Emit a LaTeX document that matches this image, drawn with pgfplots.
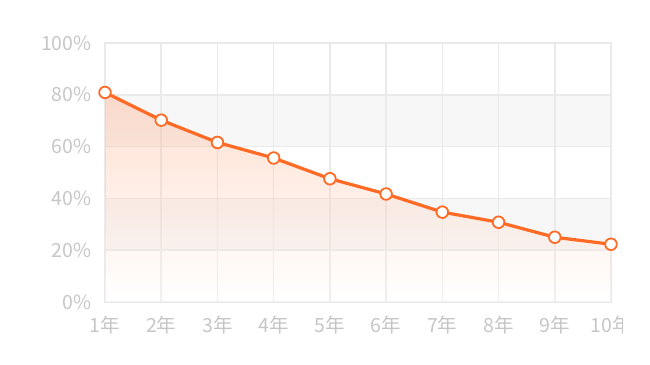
\documentclass[border=0pt]{standalone}
\usepackage{pgfplots}
\pgfplotsset{compat=1.18}
\usepackage{fontspec}
\setmainfont{Noto Sans CJK SC}
\definecolor{lc}{HTML}{FF6A25}
\definecolor{gridc}{HTML}{EAEAEA}
\definecolor{bandc}{HTML}{F7F7F7}
\definecolor{txt}{HTML}{C6C6C6}
\begin{document}
\begin{tikzpicture}
\begin{axis}[
  at={(105pt,62pt)}, anchor=south west,
  scale only axis, width=506pt, height=259pt,
  xmin=1, xmax=10, ymin=0, ymax=100,
  set layers,
  xtick={1,...,10},
  xticklabels={1年,2年,3年,4年,5年,6年,7年,8年,9年,10年},
  ytick={0,20,40,60,80,100},
  yticklabels={0\%,20\%,40\%,60\%,80\%,100\%},
  grid=major,
  major grid style={gridc, line width=1.5pt},
  axis line style={gridc, line width=1.5pt},
  tick style={draw=none},
  ticklabel style={font=\fontsize{19.5}{21}\selectfont, text=txt},
  xticklabel style={yshift=-11pt},
  yticklabel style={xshift=-10pt},
]
\addplot[on layer=axis background, draw=none, fill=bandc] coordinates {(1,60) (10,60) (10,80) (1,80)} -- cycle;
\addplot[on layer=axis background, draw=none, fill=bandc] coordinates {(1,20) (10,20) (10,40) (1,40)} -- cycle;
\addplot[draw=none, top color=lc!70!white, middle color=lc!22!white, bottom color=white, fill opacity=0.3] coordinates {
(1,80.9) (2,70.2) (3,61.6) (4,55.6) (5,47.6) (6,41.7) (7,34.7) (8,30.8) (9,25.0) (10,22.3)} \closedcycle;
\addplot[color=lc, line width=3.2pt, mark=*, mark options={fill=white, draw=lc, line width=1.8pt}, mark size=5.8pt] coordinates {
(1,80.9) (2,70.2) (3,61.6) (4,55.6) (5,47.6) (6,41.7) (7,34.7) (8,30.8) (9,25.0) (10,22.3)};
\end{axis}
\fill[white] (623pt,16pt) rectangle (660pt,54pt);
\pgfresetboundingbox
\path[use as bounding box] (0,0) rectangle (650pt,364pt);
\end{tikzpicture}
\end{document}
